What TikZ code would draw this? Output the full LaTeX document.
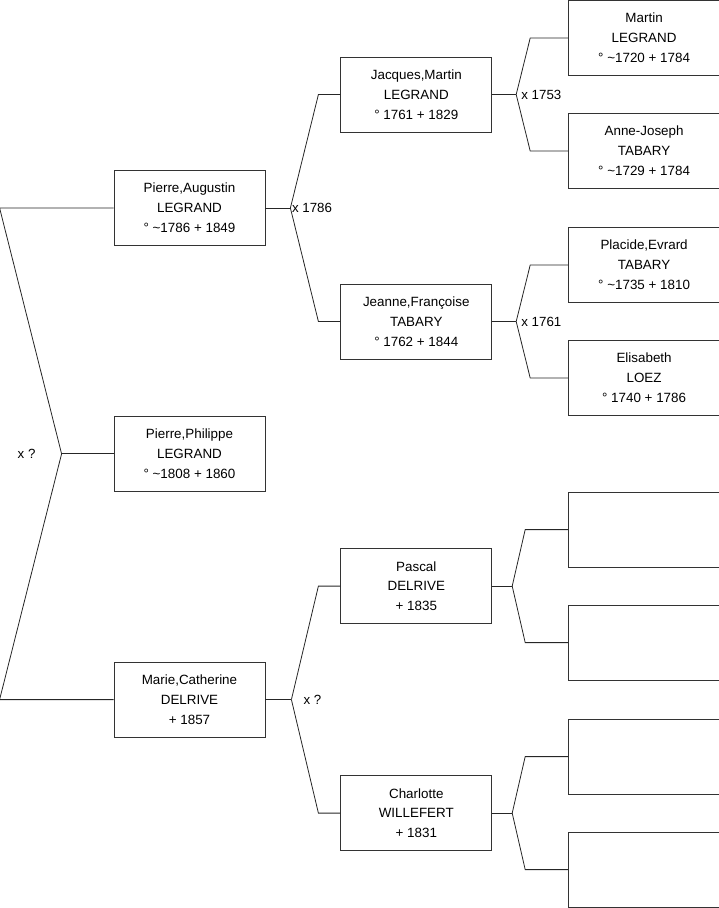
\documentclass[tikz,border=0pt]{standalone}
\usepackage{fontspec}
\setmainfont{Liberation Sans}
\usepackage{tikz}
\usetikzlibrary{positioning,calc}
\definecolor{boxgray}{HTML}{333333}
\tikzset{
  person/.style={draw=boxgray, line width=0.8pt, fill=white, align=center, minimum width=151pt, minimum height=75pt, inner sep=2pt, font=\fontsize{13.4}{19.8}\selectfont},
  link/.style={draw=black!85, line width=0.8pt},
  union/.style={inner sep=0pt, font=\fontsize{13.3}{15}\selectfont}
}

\begin{document}
\begin{tikzpicture}
  \useasboundingbox (0,0) rectangle (719pt,-908pt);

  % generation 1
  \node[person] (pa) at (189.5pt,-208pt) {Pierre,Augustin\\LEGRAND\\° \textasciitilde1786 + 1849};
  \node[person, below=170pt of pa] (pp) {Pierre,Philippe\\LEGRAND\\° \textasciitilde1808 + 1860};
  \node[person, below=170pt of pp] (mc) {Marie,Catherine\\DELRIVE\\+ 1857};

  % generation 2
  \node[person, right=75pt of pa, yshift=113.5pt] (jm) {Jacques,Martin\\LEGRAND\\° 1761 + 1829};
  \node[person, right=75pt of pa, yshift=-113.5pt] (jf) {Jeanne,Françoise\\TABARY\\° 1762 + 1844};
  \node[person, right=75pt of mc, yshift=113.5pt] (pd) {Pascal\\DELRIVE\\+ 1835};
  \node[person, right=75pt of mc, yshift=-113.5pt] (cw) {Charlotte\\WILLEFERT\\+ 1831};

  % generation 3
  \node[person, right=76pt of jm, yshift=56.5pt] (ml) {Martin\\LEGRAND\\° \textasciitilde1720 + 1784};
  \node[person, right=76pt of jm, yshift=-56.5pt] (ajt) {Anne-Joseph\\TABARY\\° \textasciitilde1729 + 1784};
  \node[person, right=76pt of jf, yshift=56.5pt] (pet) {Placide,Evrard\\TABARY\\° \textasciitilde1735 + 1810};
  \node[person, right=76pt of jf, yshift=-56.5pt] (el) {Elisabeth\\LOEZ\\° 1740 + 1786};
  \node[person, right=76pt of pd, yshift=56.5pt] (e1) {};
  \node[person, right=76pt of pd, yshift=-56.5pt] (e2) {};
  \node[person, right=76pt of cw, yshift=56.5pt] (e3) {};
  \node[person, right=76pt of cw, yshift=-56.5pt] (e4) {};

  % brackets
  \coordinate (v0) at ([xshift=-52pt]pp.west);
  \coordinate (v0a) at ([xshift=-114pt]pa.west);
  \coordinate (v0b) at ([xshift=-114pt]mc.west);
  \draw[link] (pa.west) -- (v0a) -- (v0) -- (v0b) -- (mc.west);
  \draw[link] (v0) -- (pp.west);
  \node[union] (u0) at ([xshift=-35pt]v0) {x ?};

  \coordinate (v1) at ([xshift=25pt]pa.east);
  \draw[link] (pa.east) -- (v1);
  \draw[link] (v1) -- ([xshift=-22pt]jm.west) -- (jm.west);
  \draw[link] (v1) -- ([xshift=-22pt]jf.west) -- (jf.west);
  \node[union, anchor=west] (u1) at ([xshift=1.5pt]v1) {x 1786};

  \coordinate (v2) at ([xshift=26pt]mc.east);
  \draw[link] (mc.east) -- (v2);
  \draw[link] (v2) -- ([xshift=-22pt]pd.west) -- (pd.west);
  \draw[link] (v2) -- ([xshift=-22pt]cw.west) -- (cw.west);
  \node[union, anchor=west] (u2) at ([xshift=12pt]v2) {x ?};

  \coordinate (v3) at ([xshift=24pt]jm.east);
  \draw[link] (jm.east) -- (v3);
  \draw[link] (v3) -- ([xshift=-38pt]ml.west) -- (ml.west);
  \draw[link] (v3) -- ([xshift=-38pt]ajt.west) -- (ajt.west);
  \node[union, anchor=west] (u3) at ([xshift=5pt]v3) {x 1753};

  \coordinate (v4) at ([xshift=24pt]jf.east);
  \draw[link] (jf.east) -- (v4);
  \draw[link] (v4) -- ([xshift=-38pt]pet.west) -- (pet.west);
  \draw[link] (v4) -- ([xshift=-38pt]el.west) -- (el.west);
  \node[union, anchor=west] (u4) at ([xshift=5pt]v4) {x 1761};

  \coordinate (v5) at ([xshift=20pt]pd.east);
  \draw[link] (pd.east) -- (v5);
  \draw[link] (v5) -- ([xshift=-43pt]e1.west) -- (e1.west);
  \draw[link] (v5) -- ([xshift=-43pt]e2.west) -- (e2.west);

  \coordinate (v6) at ([xshift=20pt]cw.east);
  \draw[link] (cw.east) -- (v6);
  \draw[link] (v6) -- ([xshift=-43pt]e3.west) -- (e3.west);
  \draw[link] (v6) -- ([xshift=-43pt]e4.west) -- (e4.west);
\end{tikzpicture}
\end{document}
